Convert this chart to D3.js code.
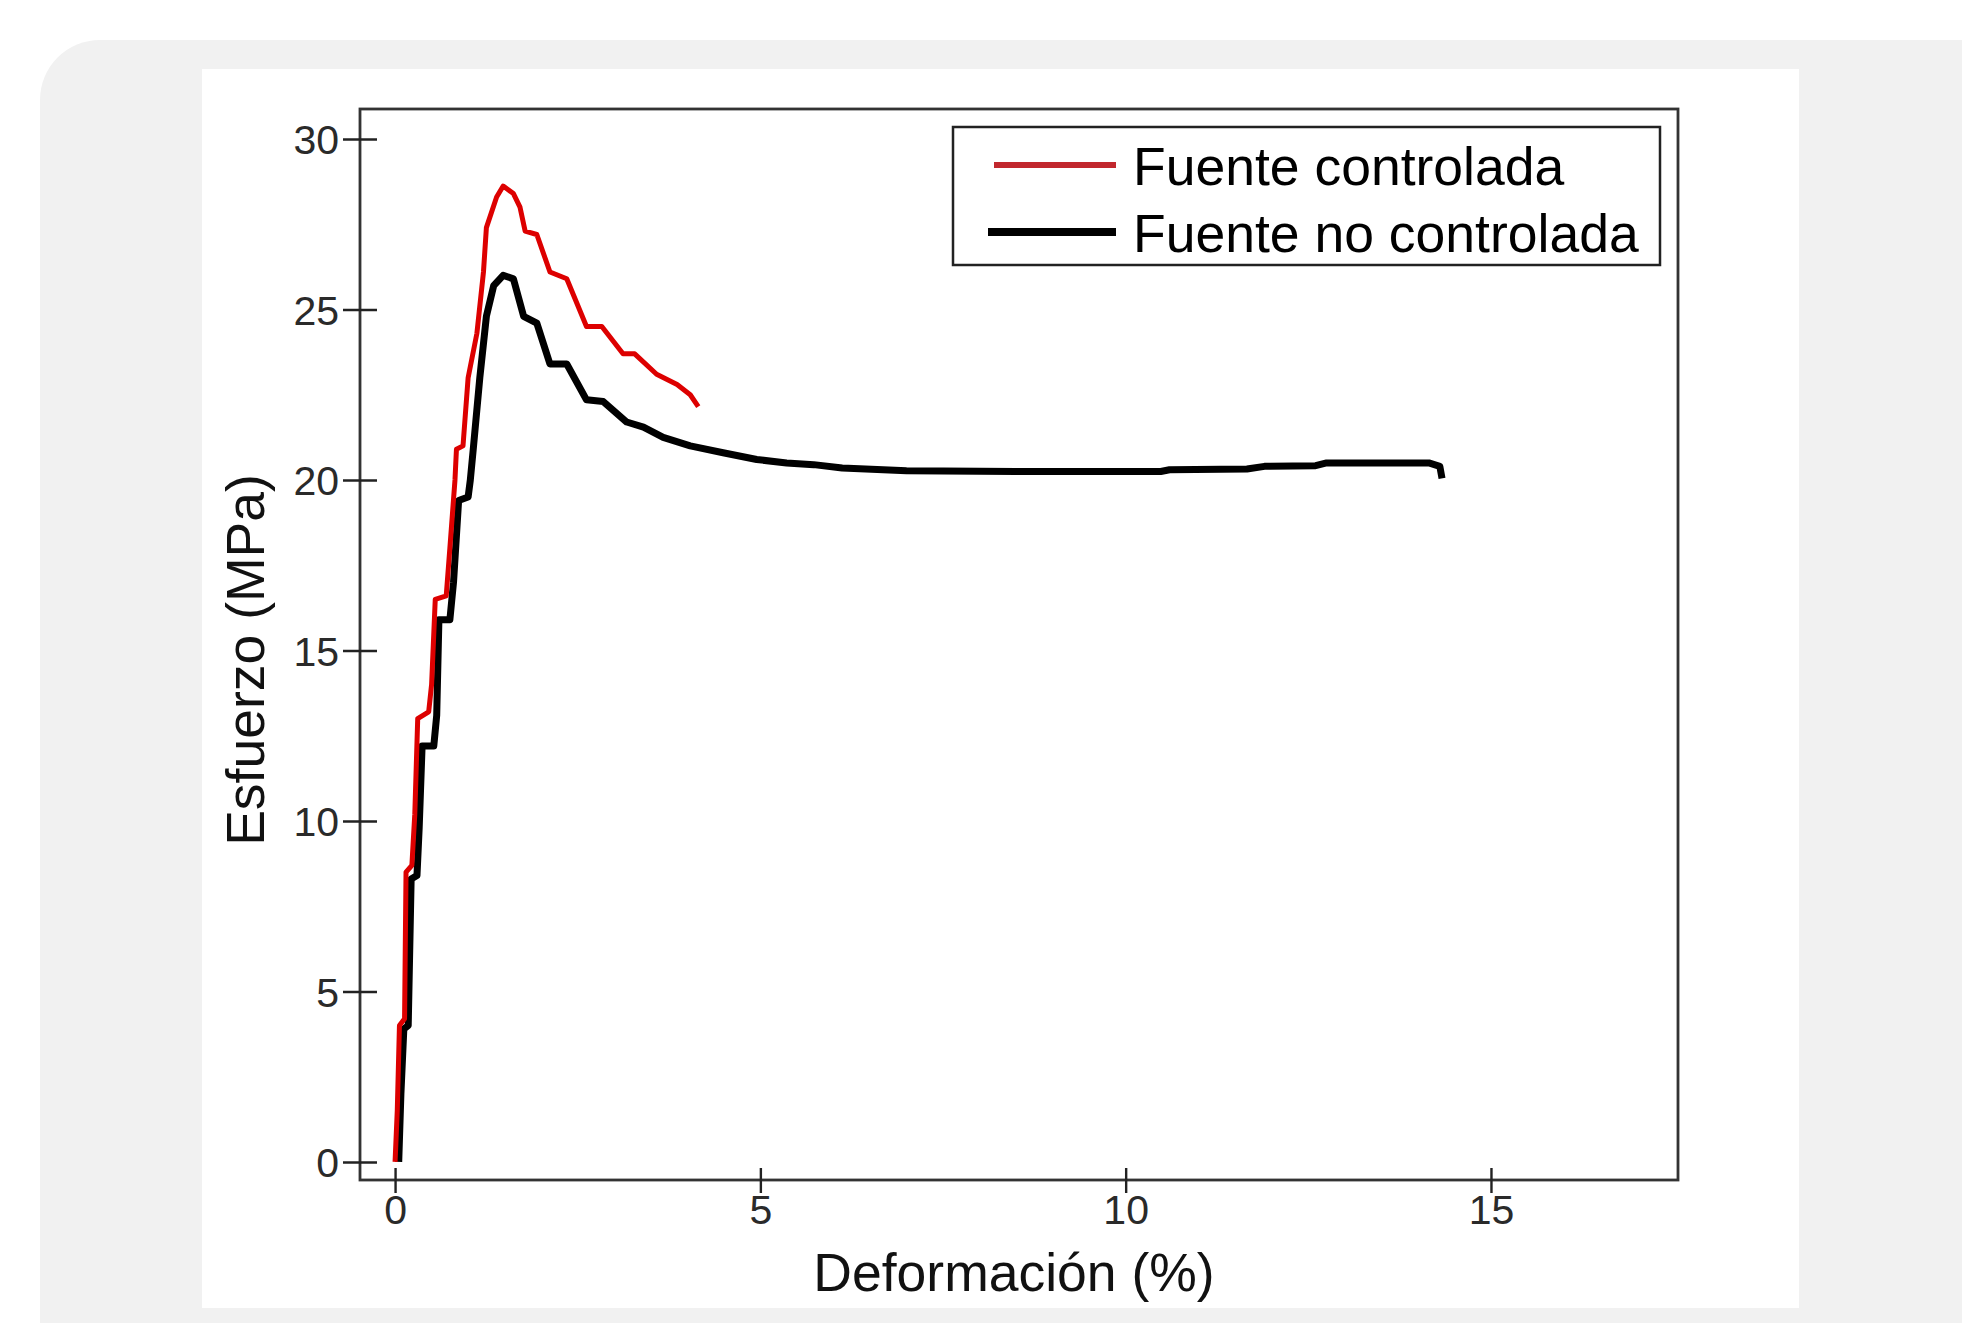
<!DOCTYPE html>
<html>
<head>
<meta charset="utf-8">
<script src="https://cdn.jsdelivr.net/npm/d3@7"></script>
<style>
  html, body { margin: 0; padding: 0; background: #ffffff; }
  svg { display: block; }
  text { font-family: "Liberation Sans", Arial, Helvetica, sans-serif; }
</style>
</head>
<body>
<svg id="chart" width="1962" height="1323"></svg>
<script>
// ---------- data ----------
const seriesNames = ["Fuente controlada", "Fuente no controlada"];
const seriesColors = ["#dd0000", "#000000"];
const legendColors = ["#c1272d", "#000000"];

// Deformación (%) / Esfuerzo (MPa) — fuente controlada
const controladaX = [0.00, 0.03, 0.06, 0.13, 0.15, 0.23, 0.27, 0.31, 0.46, 0.50, 0.55, 0.70, 0.75, 0.82, 0.84, 0.93, 1.00, 1.12, 1.21, 1.25, 1.39, 1.48, 1.62, 1.71, 1.78, 1.94, 2.12, 2.35, 2.62, 2.83, 3.12, 3.28, 3.58, 3.86, 4.04, 4.15];
const controladaY = [0.0, 1.5, 4.0, 4.2, 8.5, 8.7, 10.2, 13.0, 13.2, 14.0, 16.5, 16.6, 18.0, 20.0, 20.9, 21.0, 23.0, 24.3, 26.1, 27.4, 28.3, 28.62, 28.4, 28.0, 27.3, 27.2, 26.1, 25.9, 24.5, 24.5, 23.7, 23.7, 23.1, 22.8, 22.5, 22.15];

// fuente no controlada
const noControladaX = [0.05, 0.08, 0.12, 0.18, 0.22, 0.30, 0.33, 0.37, 0.53, 0.57, 0.60, 0.75, 0.80, 0.87, 1.00, 1.03, 1.07, 1.16, 1.25, 1.35, 1.48, 1.62, 1.76, 1.94, 2.12, 2.35, 2.62, 2.85, 3.17, 3.40, 3.67, 4.04, 4.49, 4.95, 5.36, 5.73, 6.12, 7.00, 8.50, 10.48, 10.60, 11.66, 11.90, 12.60, 12.75, 14.15, 14.30, 14.33];
const noControladaY = [0.0, 2.0, 3.9, 4.0, 8.3, 8.4, 9.8, 12.2, 12.2, 13.1, 15.9, 15.9, 17.0, 19.4, 19.5, 20.0, 20.9, 23.0, 24.8, 25.7, 26.0, 25.9, 24.8, 24.6, 23.4, 23.4, 22.35, 22.3, 21.7, 21.55, 21.25, 21.0, 20.8, 20.6, 20.5, 20.45, 20.35, 20.27, 20.25, 20.25, 20.3, 20.32, 20.4, 20.42, 20.5, 20.5, 20.4, 20.05];

const xTicks = [0, 5, 10, 15];
const yTicks = [0, 5, 10, 15, 20, 25, 30];
const xTitle = "Deformación (%)";
const yTitle = "Esfuerzo (MPa)";

// ---------- layout ----------
const svg = d3.select("#chart");
const plot = { left: 360, right: 1678, top: 109, bottom: 1180 };

// background card + white panel
svg.append("rect").attr("x", 40).attr("y", 40).attr("width", 2000).attr("height", 1400)
  .attr("rx", 60).attr("ry", 60).attr("fill", "#f1f1f1");
svg.append("rect").attr("x", 202).attr("y", 69).attr("width", 1597).attr("height", 1239)
  .attr("fill", "#ffffff");

const x = d3.scaleLinear().domain([-0.48, 17.56]).range([plot.left, plot.right]);
const y = d3.scaleLinear().domain([-0.53, 30.88]).range([plot.bottom, plot.top]);

// frame
svg.append("rect")
  .attr("x", plot.left).attr("y", plot.top)
  .attr("width", plot.right - plot.left).attr("height", plot.bottom - plot.top)
  .attr("fill", "none").attr("stroke", "#333").attr("stroke-width", 2.8);

// axes
const yAxis = svg.append("g").attr("transform", `translate(${plot.left},0)`)
  .call(d3.axisLeft(y).tickValues(yTicks).tickFormat(d3.format("d")));
yAxis.select(".domain").remove();
yAxis.selectAll(".tick line").attr("x1", 17).attr("x2", -17).attr("stroke", "#222").attr("stroke-width", 2.4);
yAxis.selectAll(".tick text").attr("x", -21).attr("dy", "0.36em")
  .attr("font-size", 41).attr("fill", "#2a2a2a").style("font-family", '"Liberation Sans", Arial, sans-serif');

const xAxis = svg.append("g").attr("transform", `translate(0,${plot.bottom})`)
  .call(d3.axisBottom(x).tickValues(xTicks).tickFormat(d3.format("d")));
xAxis.select(".domain").remove();
xAxis.selectAll(".tick line").attr("y1", -12).attr("y2", 13).attr("stroke", "#222").attr("stroke-width", 2.4);
xAxis.selectAll(".tick text").attr("y", 15).attr("dy", "0.71em")
  .attr("font-size", 41).attr("fill", "#2a2a2a").style("font-family", '"Liberation Sans", Arial, sans-serif');

// titles
svg.append("text").attr("x", 1014).attr("y", 1291).attr("text-anchor", "middle")
  .attr("font-size", 53.5).attr("fill", "#111").text(xTitle);
svg.append("text").attr("transform", "translate(264,660) rotate(-90)").attr("text-anchor", "middle")
  .attr("font-size", 53.5).attr("fill", "#111").text(yTitle);

// lines
const line = d3.line().x(d => x(d[0])).y(d => y(d[1]));
const dataC = controladaX.map((v, i) => [v, controladaY[i]]);
const dataN = noControladaX.map((v, i) => [v, noControladaY[i]]);

svg.append("path").datum(dataN).attr("d", line).attr("fill", "none")
  .attr("stroke", seriesColors[1]).attr("stroke-width", 7).attr("stroke-linejoin", "round");
svg.append("path").datum(dataC).attr("d", line).attr("fill", "none")
  .attr("stroke", seriesColors[0]).attr("stroke-width", 5).attr("stroke-linejoin", "round");

// legend
const lg = svg.append("g");
lg.append("rect").attr("x", 953).attr("y", 127).attr("width", 707).attr("height", 138)
  .attr("fill", "#fff").attr("stroke", "#222").attr("stroke-width", 2.5);
const legY = [165, 232];
const legX1 = [994, 988];
const legW = [6, 8];
seriesNames.forEach((name, i) => {
  lg.append("line").attr("x1", legX1[i]).attr("x2", 1116).attr("y1", legY[i]).attr("y2", legY[i])
    .attr("stroke", legendColors[i]).attr("stroke-width", legW[i]);
  lg.append("text").attr("x", 1133).attr("y", legY[i] + 20)
    .attr("font-size", 53.5).attr("fill", "#000").text(name);
});
</script>
</body>
</html>
